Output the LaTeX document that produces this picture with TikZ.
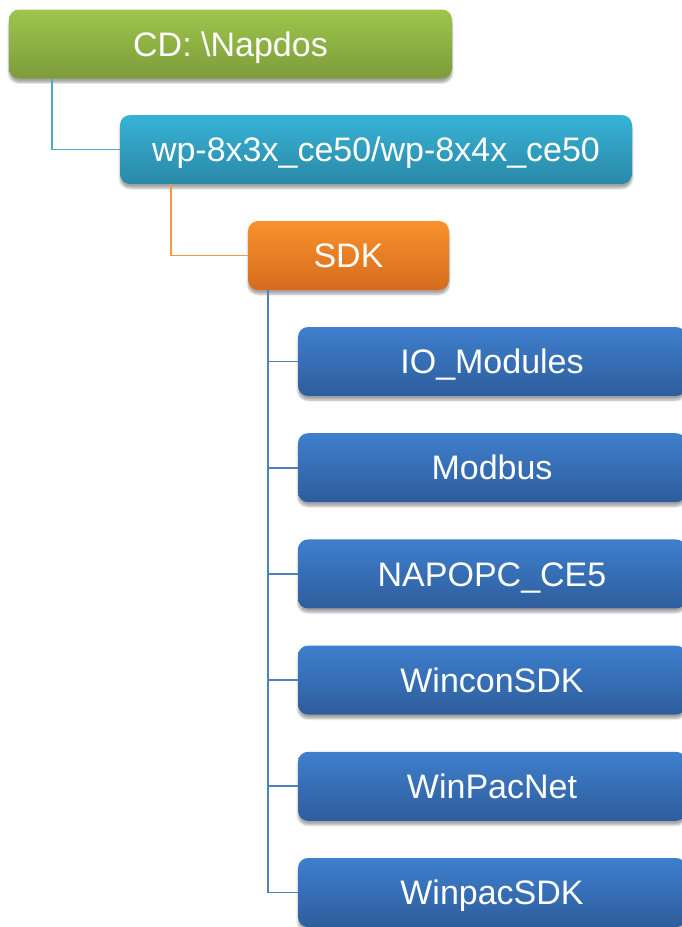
\documentclass[tikz,border=0pt]{standalone}
\usepackage{fontspec}
\setmainfont{Liberation Sans}
\usetikzlibrary{shadows.blur}
\definecolor{gtop}{HTML}{9DC64C}
\definecolor{gbot}{HTML}{7D9B3B}
\definecolor{ctop}{HTML}{37B3D7}
\definecolor{cbot}{HTML}{2A88A6}
\definecolor{otop}{HTML}{F9922B}
\definecolor{obot}{HTML}{D56B1F}
\definecolor{btop}{HTML}{3E7FCD}
\definecolor{bbot}{HTML}{2E5D9C}
\definecolor{cline}{HTML}{4BACC6}
\definecolor{oline}{HTML}{F79646}
\definecolor{bline}{HTML}{4F81BD}
\tikzset{
  box/.style={rounded corners=10pt, minimum height=69pt, inner sep=0pt, text=white,
    font=\fontsize{34}{38}\selectfont, text height=24.3pt, text depth=0pt,
    blur shadow={shadow xshift=0pt, shadow yshift=-4pt, shadow blur steps=6, shadow opacity=35}},
  gbox/.style={box, top color=gtop, bottom color=gbot, minimum width=443pt},
  cbox/.style={box, top color=ctop, bottom color=cbot, minimum width=512pt},
  obox/.style={box, top color=otop, bottom color=obot, minimum width=201pt},
  bbox/.style={box, top color=btop, bottom color=bbot, minimum width=388pt},
  conn/.style={line width=1.7pt},
}
\begin{document}
\begin{tikzpicture}[x=1pt,y=1pt]
\useasboundingbox (0,0) rectangle (682,-927);
\node[gbox] (cd) at (230.5,-44) {CD: \textbackslash Napdos};
\node[cbox] (wp) at (376,-149.5) {wp-8x3x\_ce50/wp-8x4x\_ce50};
\node[obox] (sdk) at (348.5,-255.5) {SDK};
\node[bbox] (b1) at (492,-361.5) {IO\_Modules};
\node[bbox] (b2) at (492,-467.7) {Modbus};
\node[bbox] (b3) at (492,-573.9) {NAPOPC\_CE5};
\node[bbox] (b4) at (492,-680.1) {WinconSDK};
\node[bbox] (b5) at (492,-786.3) {WinPacNet};
\node[bbox] (b6) at (492,-892.5) {WinpacSDK};
\draw[conn, cline] ([xshift=43pt]cd.south west) |- (wp.west);
\draw[conn, oline] ([xshift=51pt]wp.south west) |- (sdk.west);
\foreach \b in {b1,b2,b3,b4,b5,b6}
  \draw[conn, bline] ([xshift=20pt]sdk.south west) |- (\b.west);
\end{tikzpicture}
\end{document}
